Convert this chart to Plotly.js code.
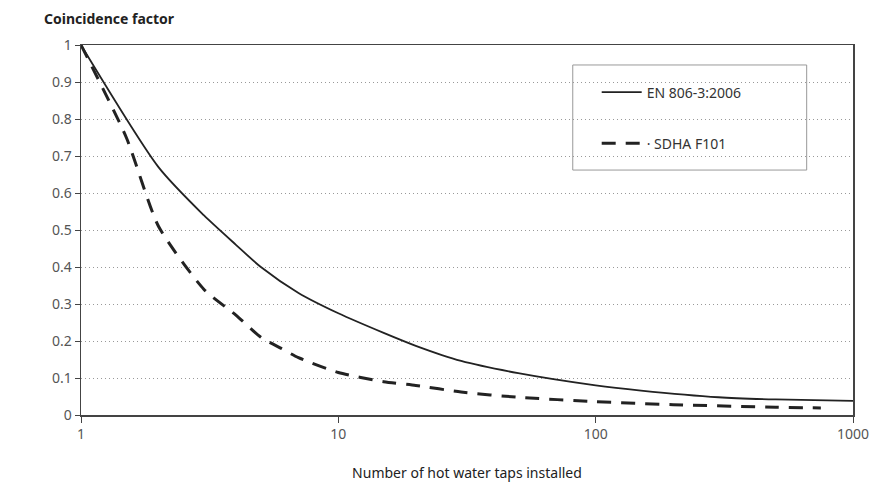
<!DOCTYPE html>
<html><head><meta charset="utf-8">
<script src="https://cdn.plot.ly/plotly-3.0.1.min.js"></script>
<style>html,body{margin:0;padding:0;background:#fff;}#chart{width:872px;height:496px;}</style>
</head><body><div id="chart"></div>
<script>
const enTaps = [1, 2, 3, 4, 5, 7, 10, 15, 20, 30, 50, 100, 150, 300, 500, 1000];
const enFactor = [1.0, 0.67, 0.54, 0.46, 0.40, 0.33, 0.275, 0.222, 0.187, 0.146, 0.113, 0.08, 0.066, 0.048, 0.042, 0.038];
const sdTaps = [1, 1.5, 2, 3, 4, 5, 6, 7, 10, 15, 20, 30, 50, 100, 200, 500, 750];
const sdFactor = [1.0, 0.75, 0.51, 0.34, 0.27, 0.21, 0.18, 0.155, 0.115, 0.09, 0.08, 0.062, 0.048, 0.036, 0.028, 0.021, 0.019];
const seriesNames = ["EN 806-3:2006", "· SDHA F101"];
const xTicks = [1, 10, 100, 1000];
const yTicks = [0, 0.1, 0.2, 0.3, 0.4, 0.5, 0.6, 0.7, 0.8, 0.9, 1];
const FONT = "'Noto Sans', sans-serif";

const traces = [
  {x: enTaps, y: enFactor, name: seriesNames[0], mode: "lines", legendgroup: "a",
   line: {color: "#222", width: 1.8, shape: "spline", smoothing: 0.7}},
  {x: sdTaps, y: sdFactor, name: seriesNames[1], mode: "lines", legendgroup: "b",
   line: {color: "#222", width: 3, dash: "14px,10px", shape: "spline", smoothing: 0.6}}
];
const layout = {
  width: 872, height: 496,
  margin: {l: 81, r: 19, t: 45, b: 81},
  paper_bgcolor: "#fff", plot_bgcolor: "#fff",
  font: {family: FONT, size: 14, color: "#333"},
  showlegend: true,
  legend: {x: 0.668, y: 0.915, xanchor: "left", yanchor: "top", bgcolor: "rgba(0,0,0,0)",
    borderwidth: 0, tracegroupgap: 30, itemwidth: 40,
    font: {family: FONT, size: 14, color: "#333"}},
  xaxis: {type: "log", range: [0, 3], tickvals: xTicks, ticktext: xTicks.map(String),
    showgrid: false, showline: true, linecolor: "#444", linewidth: 1.5, mirror: true,
    ticks: "outside", ticklen: 6, tickcolor: "#444", tickfont: {size: 14, color: "#555"},
    zeroline: false,
    title: {text: "Number of hot water taps installed", standoff: 26,
      font: {family: FONT, size: 14, color: "#222"}}},
  yaxis: {range: [0, 1], tickvals: yTicks, ticktext: yTicks.map(String),
    showgrid: true, gridcolor: "#999", griddash: "1px,3px", gridwidth: 1,
    showline: true, linecolor: "#444", linewidth: 1.5, mirror: true,
    ticks: "outside", ticklen: 5, tickcolor: "#444", tickfont: {size: 14, color: "#555"},
    zeroline: false},
  shapes: [{type: "rect", xref: "paper", yref: "paper", x0: 0.637, x1: 0.94, y0: 0.662, y1: 0.946,
    line: {color: "#999", width: 1}, fillcolor: "#fff", layer: "below"}],
  annotations: [{text: "<b>Coincidence factor</b>", xref: "paper", yref: "paper",
    x: -0.05, y: 1.04, xanchor: "left", yanchor: "bottom", showarrow: false,
    font: {family: FONT, size: 14, color: "#222"}}]
};
Plotly.newPlot("chart", traces, layout, {displayModeBar: false, staticPlot: true});
</script></body></html>
